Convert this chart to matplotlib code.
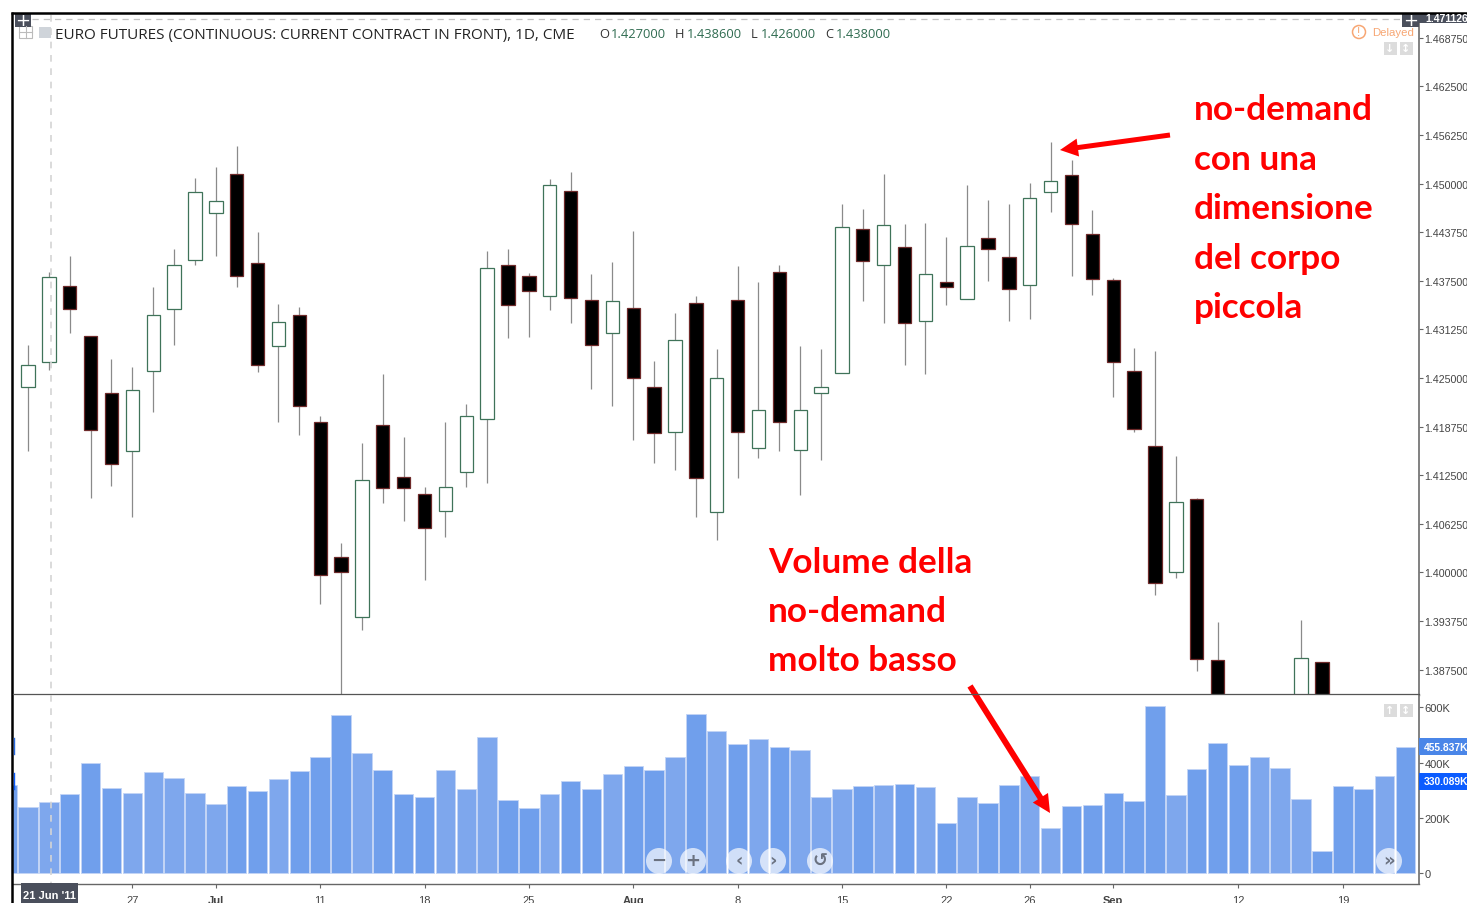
import matplotlib
matplotlib.use("Agg")
import matplotlib.pyplot as plt
import numpy as np
from matplotlib.patches import Circle, FancyArrow, Rectangle

W, H = 1467, 904

opens = [1.42378, 1.42700, 1.43686, 1.43042, 1.42305, 1.41559, 1.42588, 1.43380, 1.44014, 1.44617,
         1.45122, 1.43978, 1.42916, 1.43305, 1.41933, 1.40192, 1.39427, 1.41892, 1.41220, 1.41011,
         1.40789, 1.41285, 1.41971, 1.43950, 1.43806, 1.43551, 1.44900, 1.43500, 1.43079, 1.43398,
         1.42378, 1.41799, 1.43464, 1.40771, 1.43502, 1.41603, 1.43857, 1.41573, 1.42310, 1.42563,
         1.44415, 1.43947, 1.44188, 1.43236, 1.43729, 1.43515, 1.44294, 1.44055, 1.43695, 1.44895,
         1.45108, 1.44357, 1.43764, 1.42592, 1.41627, 1.40005, 1.40942, 1.38870, 1.38000, 1.37600,
         1.37900, 1.38000, 1.38847, 1.37900, 1.37600, 1.37400, 1.37800]
highs = [1.42926, 1.43860, 1.44071, 1.43042, 1.42739, 1.42634, 1.43667, 1.44163, 1.45076, 1.45206,
         1.45488, 1.44377, 1.43449, 1.43417, 1.42008, 1.40377, 1.41661, 1.42554, 1.41739, 1.41091,
         1.41938, 1.42170, 1.44135, 1.44154, 1.43852, 1.45062, 1.45150, 1.43834, 1.43996, 1.44389,
         1.42716, 1.43338, 1.43556, 1.42872, 1.43943, 1.43734, 1.43956, 1.42914, 1.42872, 1.44732,
         1.44676, 1.45126, 1.44483, 1.44492, 1.44312, 1.44981, 1.44783, 1.44732, 1.45011, 1.45539,
         1.45308, 1.44663, 1.43782, 1.42889, 1.42851, 1.41497, 1.40960, 1.39366, 1.38200, 1.38200,
         1.38300, 1.39389, 1.38847, 1.38200, 1.37900, 1.38000, 1.38100]
lows = [1.41559, 1.42600, 1.43074, 1.40952, 1.41104, 1.40710, 1.42059, 1.42926, 1.43955, 1.44065,
        1.43667, 1.42574, 1.41929, 1.41771, 1.39594, 1.38300, 1.39256, 1.40886, 1.40664, 1.39899,
        1.40450, 1.41095, 1.41150, 1.43008, 1.43022, 1.43375, 1.43204, 1.42351, 1.42138, 1.41702,
        1.41401, 1.41322, 1.40710, 1.40420, 1.41213, 1.41465, 1.41555, 1.40989, 1.41439, 1.42563,
        1.43493, 1.43206, 1.42666, 1.42545, 1.43433, 1.43515, 1.43746, 1.43232, 1.43258, 1.44631,
        1.43811, 1.43560, 1.42253, 1.41808, 1.39714, 1.39922, 1.38726, 1.37800, 1.37500, 1.37400,
        1.37700, 1.37850, 1.37700, 1.37500, 1.37200, 1.37200, 1.37300]
closes = [1.42670, 1.43800, 1.43380, 1.41828, 1.41387, 1.42342, 1.43314, 1.43950, 1.44886, 1.44779,
          1.43816, 1.42666, 1.43213, 1.42138, 1.39964, 1.40005, 1.41184, 1.41086, 1.41086, 1.40571,
          1.41091, 1.42008, 1.43909, 1.43444, 1.43617, 1.44978, 1.43528, 1.42921, 1.43487, 1.42499,
          1.41794, 1.42985, 1.41216, 1.42499, 1.41799, 1.42091, 1.41928, 1.42091, 1.42383, 1.44436,
          1.43999, 1.44461, 1.43210, 1.43831, 1.43669, 1.44200, 1.44158, 1.43644, 1.44809, 1.45030,
          1.44473, 1.43773, 1.42704, 1.41837, 1.39862, 1.40904, 1.38884, 1.38000, 1.37700, 1.38000,
          1.38200, 1.38898, 1.37900, 1.37600, 1.37400, 1.37800, 1.37500]

# one extra bar sits half hidden at the left edge of the volume pane
volume_before = 320
volumes = [240, 258, 288, 399, 310, 292, 366, 345, 292, 251,
           317, 299, 340, 370, 421, 573, 436, 374, 288, 277,
           374, 306, 492, 266, 236, 288, 333, 306, 358, 388,
           374, 421, 577, 515, 469, 485, 458, 447, 277, 306,
           317, 321, 324, 313, 181, 277, 254, 321, 351, 165,
           244, 247, 292, 262, 606, 284, 377, 473, 392, 421,
           381, 270, 81, 317, 306, 351, 455.8]

date_ticks = [5, 9, 14, 19, 24, 29, 34, 39, 44, 48, 52, 58, 63]
date_labels = ["27", "Jul", "11", "18", "25", "Aug", "8", "15", "22", "26", "Sep", "12", "19"]
month_labels = ["Jul", "Aug", "Sep"]
price_ticks = [1.3875, 1.39375, 1.4, 1.40625, 1.4125, 1.41875, 1.425, 1.43125,
               1.4375, 1.44375, 1.45, 1.45625, 1.4625, 1.46875]
volume_ticks = [0, 200, 400, 600]

UP_EDGE = "#3f7359"
DOWN_EDGE = "#6e2a2a"
WICK = "#8a8a8a"
VOL_UP = "#7ea7ed"
VOL_DOWN = "#709fec"
DARK = "#4a4f5c"
TICK_TXT = "#444444"
RED = "#ff0000"

plt.rcParams["font.family"] = ["Liberation Sans", "DejaVu Sans"]


def px_axes(fig, left, top, right, bottom):
    return fig.add_axes([left / W, 1 - bottom / H, (right - left) / W, (bottom - top) / H])


fig = plt.figure(figsize=(W / 100, H / 100), dpi=100, facecolor="white")
ax = px_axes(fig, 13, 15.7, 1419, 695.7)
ax_vol = px_axes(fig, 13, 695.7, 1419, 884.7)

idx = np.arange(len(closes))
o, h, l, c = map(np.array, (opens, highs, lows, closes))
up = c >= o
xlim = ((13 - 28) / 20.87, (1419 - 28) / 20.87)

# candles
ax.vlines(idx, l, h, color=WICK, linewidth=0.9, zorder=1)
ax.bar(idx[up], (c - o)[up], bottom=o[up], width=0.64, facecolor="white",
       edgecolor=UP_EDGE, linewidth=0.9, zorder=2)
ax.bar(idx[~up], (o - c)[~up], bottom=c[~up], width=0.64, facecolor="black",
       edgecolor=DOWN_EDGE, linewidth=0.9, zorder=2)
ax.set_xlim(*xlim)
ax.set_ylim(1.38426, 1.47171)
ax.set_xticks([])
ax.yaxis.tick_right()
ax.set_yticks(price_ticks)
ax.set_yticklabels([f"{t:.6f}" for t in price_ticks], fontsize=7.7, color=TICK_TXT)
ax.tick_params(axis="y", length=3, width=0.8, color="#666666", pad=1)

# volume
vol_x = np.arange(-1, len(volumes))
vol_y = [volume_before] + volumes
vol_col = [VOL_DOWN] + [VOL_UP if u else VOL_DOWN for u in up]
ax_vol.bar(vol_x, vol_y, width=0.93, color=vol_col, edgecolor="#c3d5f6", linewidth=0.6)
ax_vol.set_xlim(*xlim)
ax_vol.set_ylim(-38, 646)
ax_vol.yaxis.tick_right()
ax_vol.set_yticks(volume_ticks)
ax_vol.set_yticklabels(["0", "200K", "400K", "600K"], fontsize=8, color=TICK_TXT)
ax_vol.set_xticks(date_ticks)
ax_vol.set_xticklabels(date_labels, fontsize=8, color=TICK_TXT)
for lab in ax_vol.get_xticklabels():
    if lab.get_text() in month_labels:
        lab.set_fontweight("bold")
ax_vol.tick_params(axis="y", length=3, width=0.8, color="#666666", pad=1)
ax_vol.tick_params(axis="x", length=3, width=0.8, color="#666666", pad=5)

for a in (ax, ax_vol):
    a.spines["right"].set_color("#777777")
    a.spines["right"].set_linewidth(1.3)
    a.spines["left"].set_visible(False)
    a.spines["top"].set_visible(False)
    a.spines["bottom"].set_color("#666666")
    a.spines["bottom"].set_linewidth(1.0)

# overlay in image pixels for the platform chrome and the hand-drawn notes
ov = fig.add_axes([0, 0, 1, 1], zorder=5)
ov.set_xlim(0, W)
ov.set_ylim(H, 0)
ov.axis("off")
ov.patch.set_alpha(0)

ov.plot([11, 1467], [14, 14], color="black", linewidth=1.8, solid_capstyle="butt")
ov.plot([12, 12], [13, 904], color="black", linewidth=1.8, solid_capstyle="butt")
ov.plot([13, 1419], [695.3, 695.3], color="#555555", linewidth=0.9)
ov.plot([51, 51], [16, 884], color="#d4d4d4", linewidth=1.2, dashes=(4, 4))
ov.plot([32, 1402], [19.5, 19.5], color="#c4c4c4", linewidth=0.9, dashes=(5, 4))

# title row
ov.text(55, 35, "EURO FUTURES (CONTINUOUS: CURRENT CONTRACT IN FRONT), 1D, CME", fontsize=11,
        family="Open Sans", color="#222222", va="center", ha="left")
ov.add_patch(Rectangle((19, 27), 13, 12, facecolor="white", edgecolor="#bbbbbb", linewidth=0.8))
ov.plot([25.5, 25.5], [27, 39], color="#bbbbbb", linewidth=0.8)
ov.plot([19, 32], [33, 33], color="#bbbbbb", linewidth=0.8)
ov.add_patch(Rectangle((39, 28), 12, 11, facecolor="#cfd4da", edgecolor="none"))
for letter, value, x, x_val in [("O", "1.427000", 599, 611), ("H", "1.438600", 675, 687),
                                ("L", "1.426000", 751, 761), ("C", "1.438000", 825, 836)]:
    ov.text(x, 34.5, letter, fontsize=9.3, family="Open Sans", color="#333333", va="center")
    ov.text(x_val, 34.5, value, fontsize=9.3, family="Open Sans", color="#2f6b50", va="center")

# crosshair boxes
for x0, x1 in [(15, 31), (1402, 1419)]:
    ov.add_patch(Rectangle((x0, 15), x1 - x0, 13, facecolor=DARK, edgecolor="none"))
    ov.text((x0 + x1) / 2, 20.5, "+", color="white", fontsize=13, ha="center", va="center",
            family="DejaVu Sans")
ov.add_patch(Rectangle((1419, 15), 48, 9, facecolor=DARK, edgecolor="none"))
ov.text(1425, 19.5, "1.471126", color="white", fontsize=7.5, fontweight="bold", va="center", clip_on=True)
ov.add_patch(Rectangle((21, 884), 57, 20, facecolor=DARK, edgecolor="none"))
ov.text(49.5, 896, "21 Jun '11", color="white", fontsize=8, fontweight="bold", ha="center", va="center")

# delayed badge and scale buttons
ov.add_patch(Circle((1359, 33), 6.5, facecolor="none", edgecolor="#f7a673", linewidth=1.1))
ov.text(1359, 33, "!", color="#f7a673", fontsize=8.5, ha="center", va="center")
ov.text(1372, 33.5, "Delayed", color="#f7a673", fontsize=8.2, va="center")
for y in (49, 711):
    for x, mark in [(1390, "↓" if y == 49 else "↑"), (1406, "↕")]:
        ov.add_patch(Rectangle((x - 6.5, y - 6.5), 13, 13, facecolor="#dcdcdc", edgecolor="none"))
        ov.text(x, y, mark, color="white", fontsize=8, ha="center", va="center",
                family="DejaVu Sans", fontweight="bold")

# last-value labels on the volume scale
ov.add_patch(Rectangle((1419, 739), 48, 17, facecolor="#4a86e8", edgecolor="none"))
ov.text(1424, 748, "455.837K", color="white", fontsize=7.4, fontweight="bold", va="center")
ov.add_patch(Rectangle((1419, 774), 48, 17, facecolor="#0b5cff", edgecolor="none"))
ov.text(1424, 782.5, "330.089K", color="white", fontsize=7.4, fontweight="bold", va="center")
ov.plot([13.5, 13.5], [739, 755], color="#2b6be0", linewidth=1.0)
ov.plot([13.5, 13.5], [774, 790], color="#0b5cff", linewidth=1.0)

# navigation buttons
for x, mark in [(659, "−"), (693, "+"), (739, "‹"), (773, "›"), (820, "↺"), (1389, "»")]:
    ov.add_patch(Circle((x, 862), 13, facecolor="white", edgecolor="none", alpha=0.68))
    ov.text(x, 861, mark, color="#6b7280", fontsize=13, ha="center", va="center",
            family="DejaVu Sans", fontweight="bold")

# red notes
note_font = dict(color=RED, fontsize=25.3, fontweight="bold", family="Lato", va="center", ha="left")
for y, line in zip([110, 160, 209, 259, 308],
                   ["no-demand", "con una", "dimensione", "del corpo", "piccola"]):
    ov.text(1194, y, line, **note_font)
for y, line in zip([563, 612, 661], ["Volume della", "no-demand", "molto basso"]):
    ov.text(768, y, line, **note_font)

arrow = dict(length_includes_head=True, head_width=18, head_length=18, color=RED, linewidth=0)
ov.add_patch(FancyArrow(1170, 136, -110, 15, width=5, **arrow))
ov.add_patch(FancyArrow(970, 687, 80, 127, width=6, **arrow))

fig.savefig("out.png", dpi=100)
